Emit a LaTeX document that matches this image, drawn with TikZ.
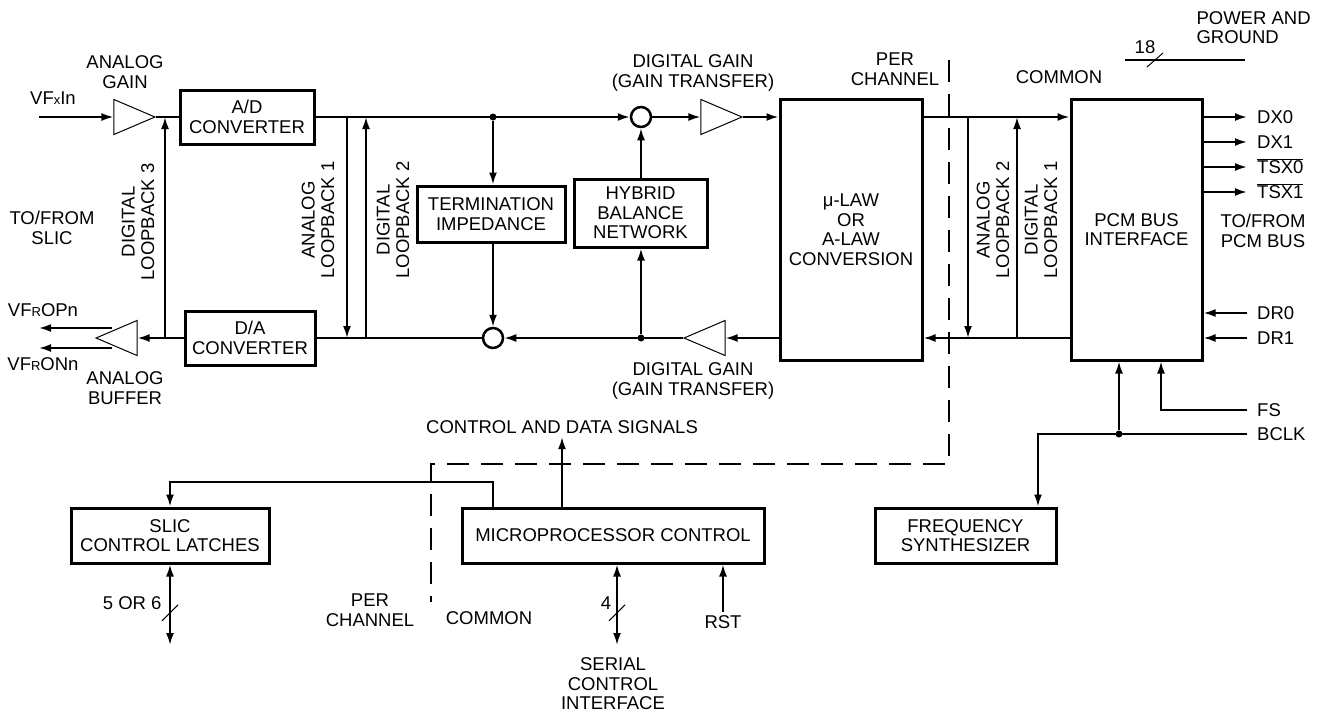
\documentclass[tikz,border=0pt]{standalone}
\usepackage{fontspec}
\setmainfont{Liberation Sans}
\usepackage{tikz}
\usetikzlibrary{arrows.meta}
\usetikzlibrary{shapes.geometric}
\usetikzlibrary{calc}

\begin{document}
\begin{tikzpicture}
	[x=1pt,y=-1pt,font=\fontsize{18.5}{19.5}\selectfont,
	every node/.style={align=center},
	blk/.style={draw,line width=3pt,inner sep=0pt},
	amp/.style={draw,line width=1pt,isosceles triangle,isosceles triangle stretches,minimum width=35pt,minimum height=41pt,inner sep=0pt},
	sum/.style={draw,circle,line width=2.5pt,minimum size=20pt,inner sep=0pt},
	jdot/.style={circle,fill,minimum size=7pt,inner sep=0pt},
	sig/.style={line width=2pt},
	arr/.style={sig,-{Latex[length=12pt,width=8pt]}},
	dbl/.style={sig,{Latex[length=12pt,width=8pt]}-{Latex[length=12pt,width=8pt]}},
	pinlbl/.style={anchor=west,inner xsep=10pt,inner ysep=0pt,text height=13.3pt,text depth=0pt}]
	\useasboundingbox (0,0) rectangle (1328,712);

	% transmit and receive paths
	\node[amp] (ag) at (125.5,117) {};
	\node[amp,shape border rotate=180] (ab) at (125.5,338) {};
	\node[blk,minimum width=134pt,minimum height=54pt] (ad) at (247,117) {A/D\\CONVERTER};
	\node[blk,minimum width=130pt,minimum height=54pt] (da) at (250,338) {D/A\\CONVERTER};
	\node[blk,minimum width=148pt,minimum height=56pt] (term) at (491,214) {TERMINATION\\IMPEDANCE};
	\node[blk,minimum width=133pt,minimum height=68pt] (hyb) at (640.5,213) {HYBRID\\BALANCE\\NETWORK};
	\node[sum] (sumt) at (641,117) {};
	\node[sum] (sumb) at (493,338) {};
	\node[jdot] (dott) at (493,117) {};
	\node[jdot] (dotb) at (641,338) {};
	\node[amp] (dgt) at (712.5,117) {};
	\node[amp,shape border rotate=180] (dgb) at (713.5,338) {};
	\node[blk,minimum width=142pt,minimum height=261pt] (law) at (851,229.5) {μ-LAW\\OR\\A-LAW\\CONVERSION};
	\node[blk,minimum width=131pt,minimum height=261pt] (pcm) at (1136.5,229.5) {PCM BUS\\INTERFACE};

	% labels
	\node (vfx) at (53,98) {VF{\fontsize{13}{13}\selectfont x}In};
	\node (agl) at (125,72) {ANALOG\\GAIN};
	\node (abl) at (125,388) {ANALOG\\BUFFER};
	\node (vfrp) at (43,310) {VF{\fontsize{13}{13}\selectfont R}OPn};
	\node (vfrn) at (43,364) {VF{\fontsize{13}{13}\selectfont R}ONn};
	\node (slicl) at (52,228) {TO/FROM\\SLIC};
	\node[rotate=90] (dl3l) at (138,222) {DIGITAL\\LOOPBACK 3};
	\node[rotate=90] (al1l) at (318,220) {ANALOG\\LOOPBACK 1};
	\node[rotate=90] (dl2l) at (393,220) {DIGITAL\\LOOPBACK 2};
	\node[rotate=90] (al2l) at (993,220) {ANALOG\\LOOPBACK 2};
	\node[rotate=90] (dl1l) at (1041,220) {DIGITAL\\LOOPBACK 1};
	\node (dgtl) at (693,73) {DIGITAL GAIN\\(GAIN TRANSFER)};
	\node (dgbl) at (693,381) {DIGITAL GAIN\\(GAIN TRANSFER)};
	\node (perl) at (895,69) {PER\\CHANNEL};
	\node (coml) at (1059,77) {COMMON};
	\node[anchor=west,align=left] (pwr) at (1193,27.5) {POWER AND\\GROUND};
	\node (n18) at (1145,47) {18};
	\node (pcmbus) at (1263,231) {TO/FROM\\PCM BUS};

	% loopback taps
	\coordinate (al1) at (347,117);
	\coordinate (dl2) at (366,338);
	\coordinate (dl3) at (165,338);
	\coordinate (al2) at (968,117);
	\coordinate (dl1) at (1017,338);
	\coordinate (vin) at (39,117);
	\coordinate (vop) at (39,328);
	\coordinate (von) at (39,348);

	\draw[arr] (vin) -- (ag.west);
	\draw[sig] (ag.apex) -- (ad.west);
	\draw[arr] (ad.east) -- (sumt.west);
	\draw[arr] (dott) -- (term.north -| dott);
	\draw[arr] (term.south -| dott) -- (sumb.north);
	\draw[arr] (dotb) -- (hyb.south -| dotb);
	\draw[arr] (hyb.north -| sumt) -- (sumt.south);
	\draw[arr] (sumt.east) -- (dgt.west);
	\draw[arr] (dgt.apex) -- (dgt.apex -| law.west);
	\draw[arr] (law.west |- dgb.east) -- (dgb.east);
	\draw[arr] (dgb.apex) -- (sumb.east);
	\draw[sig] (sumb.west) -- (da.east);
	\draw[arr] (da.west) -- (ab.east);
	\draw[arr] ([shift={(17,-10)}]ab.apex) -- (vop);
	\draw[arr] ([shift={(17,10)}]ab.apex) -- (von);
	\draw[arr] (dl3) -- (dl3 |- ad.west);
	\draw[arr] (al1) -- (al1 |- da.east);
	\draw[arr] (dl2) -- (dl2 |- ad.east);
	\draw[arr] (law.east |- dgt.apex) -- (pcm.west |- dgt.apex);
	\draw[arr] (pcm.west |- dgb.east) -- (law.east |- dgb.east);
	\draw[arr] (al2) -- (al2 |- dgb.east);
	\draw[arr] (dl1) -- (dl1 |- dgt.apex);

	% PCM bus side
	\foreach \y/\nm/\txt in {117/dx0/DX0,142/dx1/DX1,167/tsx0/$\overline{\mbox{TSX0}}$,192/tsx1/$\overline{\mbox{TSX1}}$}
	{
		\node[pinlbl] (\nm) at (1247,\y) {\txt};
		\draw[arr] (pcm.east |- \nm.west) -- (\nm.west);
	}
	\foreach \y/\nm/\txt in {313/dr0/DR0,338/dr1/DR1,410/fs/FS,434/bclk/BCLK}
		\node[pinlbl] (\nm) at (1247,\y) {\txt};
	\draw[arr] (dr0.west) -- (pcm.east |- dr0.west);
	\draw[arr] (dr1.west) -- (pcm.east |- dr1.west);
	\draw[sig] (1125,60) -- (1245,60);
	\draw[line width=1pt] (1147,67) -- (1163,53);

	% control section
	\node[blk,minimum width=181pt,minimum height=55pt] (freq) at (965.5,535.5) {FREQUENCY\\SYNTHESIZER};
	\node[blk,minimum width=198pt,minimum height=55pt] (latch) at (170,535.5) {SLIC\\CONTROL LATCHES};
	\node[blk,minimum width=302pt,minimum height=55pt] (micro) at (613,535.5) {MICROPROCESSOR CONTROL};
	\node (cds) at (562,427) {CONTROL AND DATA SIGNALS};
	\node[anchor=east] (n56) at (165,603) {5 OR 6};
	\node (n4) at (606,603) {4};
	\node (perb) at (370,610) {PER\\CHANNEL};
	\node (comb) at (489,618) {COMMON};
	\node (rst) at (723,622) {RST};
	\node (sci) at (613,684) {SERIAL\\CONTROL\\INTERFACE};
	\node[jdot] (bdot) at (1119,434) {};
	\coordinate (slo) at (170,645);
	\coordinate (ser) at (617,645);

	\draw[arr] (fs.west) -| ([xshift=24.5pt]pcm.south);
	\draw[arr] (bclk.west) -| ([xshift=72.5pt]freq.north);
	\draw[arr] (bdot) -- (bdot |- pcm.south);
	\draw[arr] ([xshift=-120pt]micro.north) -- ++(0,-25) -| (latch.north);
	\draw[arr] (cds.south |- micro.north) -- (cds.south);
	\draw[dbl] (latch.south) -- (slo);
	\draw[line width=1pt] ($(latch.south)!.6!(slo)$) +(-8,8) -- +(8,-8);
	\draw[dbl] (ser |- micro.south) -- (ser);
	\draw[line width=1pt] ($(ser |- micro.south)!.6!(ser)$) +(-8,8) -- +(8,-8);
	\draw[arr] (rst.north) -- (rst.north |- micro.south);

	% per channel / common divider
	\draw[line width=2pt,dash pattern=on 22pt off 12pt] (949,60) -- (949,464) -- (431,464) -- (431,602);
\end{tikzpicture}
\end{document}
